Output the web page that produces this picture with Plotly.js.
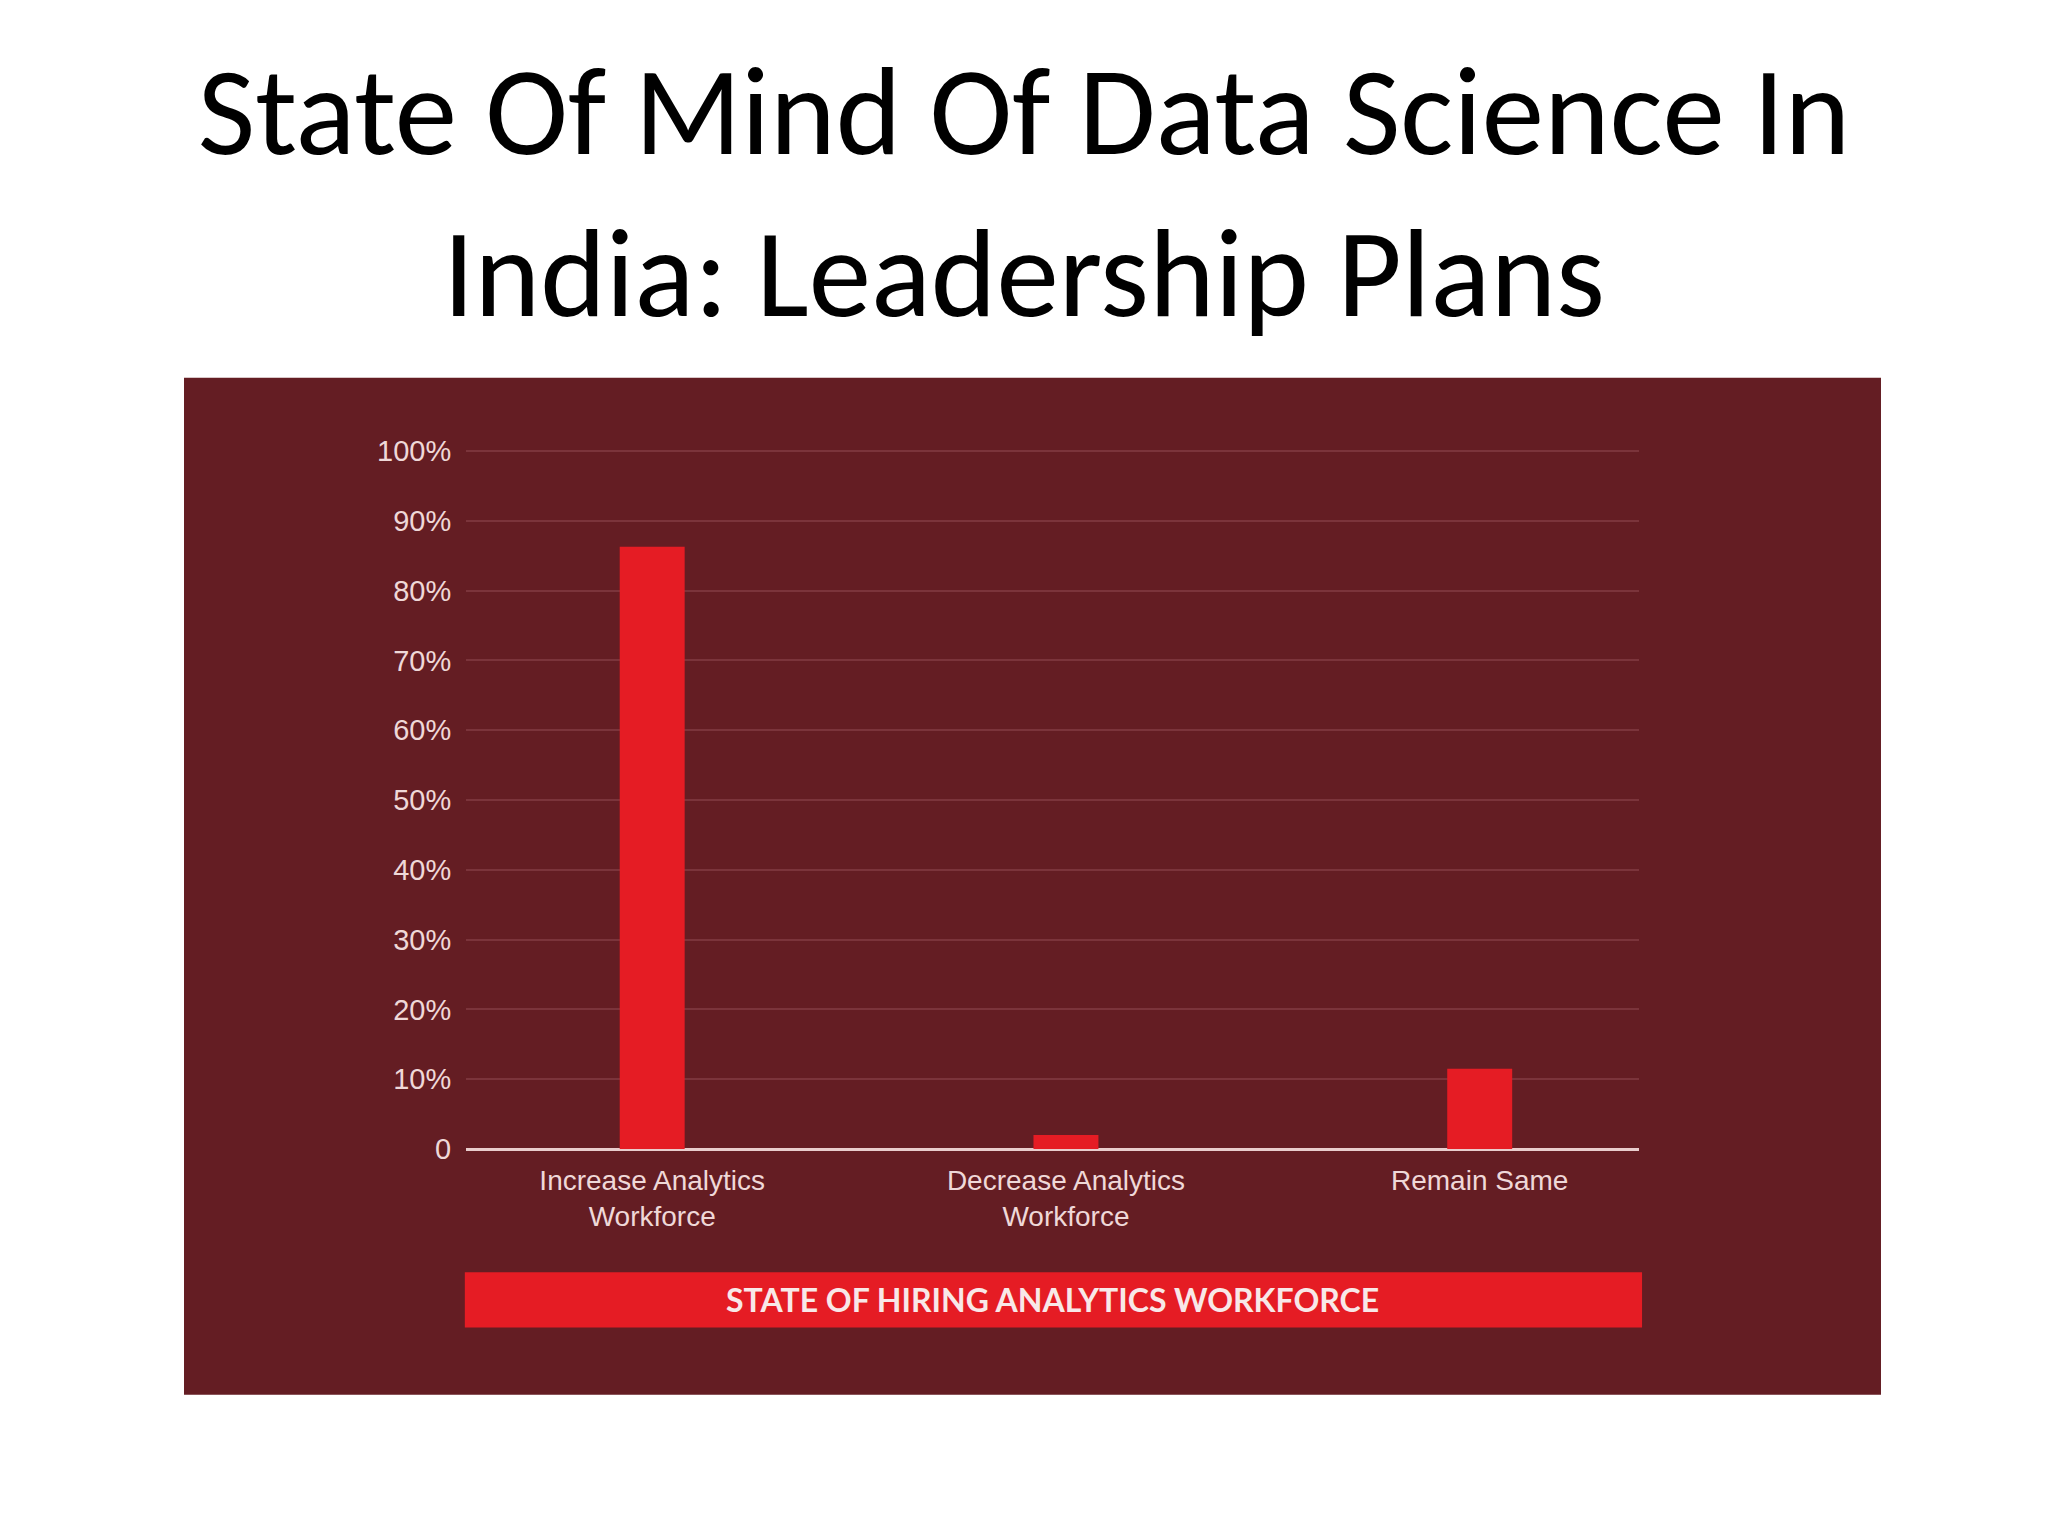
<!DOCTYPE html>
<html>
<head>
<meta charset="utf-8">
<script src="https://cdn.plot.ly/plotly-3.0.1.min.js"></script>
<style>html,body{margin:0;padding:0;background:#fff;}#chart{width:2048px;height:1536px;}</style>
</head>
<body>
<div id="chart"></div>
<script>
const categories = ["Increase Analytics<br>Workforce", "Decrease Analytics<br>Workforce", "Remain Same"];
const values = [86.3, 2, 11.5];
const tickVals = [0, 10, 20, 30, 40, 50, 60, 70, 80, 90, 100];
const tickText = ["0", "10%", "20%", "30%", "40%", "50%", "60%", "70%", "80%", "90%", "100%"];
const chartTitle = "State Of Mind Of Data Science In<br>India: Leadership Plans";
const bannerText = "STATE OF HIRING ANALYTICS WORKFORCE";

const panelColor = "#641d23";
const barColor = "#e51c24";
const labelColor = "#efd8d8";

const trace = {
  type: "bar",
  x: categories,
  y: values,
  width: 0.157,
  marker: {color: barColor, line: {width: 0}},
  hoverinfo: "skip"
};

const layout = {
  width: 2048,
  height: 1536,
  margin: {l: 466, r: 409, t: 449, b: 387, pad: 0},
  paper_bgcolor: "#ffffff",
  plot_bgcolor: "rgba(0,0,0,0)",
  showlegend: false,
  title: {
    text: chartTitle,
    font: {family: "Carlito, Calibri, Lato, sans-serif", size: 125, color: "#000000"},
    x: 0.5, xanchor: "center",
    y: 0.9, yanchor: "top", yref: "container"
  },
  xaxis: {
    type: "category",
    range: [-0.45, 2.385],
    showgrid: false, zeroline: false, showline: false,
    ticks: "outside", ticklen: 6, tickcolor: "rgba(0,0,0,0)",
    tickfont: {family: "Liberation Sans, Arial, sans-serif", size: 28, color: labelColor},
    fixedrange: true
  },
  yaxis: {
    range: [0, 100.3],
    tickvals: tickVals, ticktext: tickText,
    showgrid: true, gridcolor: "#7b343b", gridwidth: 2,
    zeroline: true, zerolinecolor: "#e9cdcd", zerolinewidth: 3,
    showline: false,
    ticks: "outside", ticklen: 8, tickcolor: "rgba(0,0,0,0)",
    tickfont: {family: "Liberation Sans, Arial, sans-serif", size: 29, color: labelColor},
    fixedrange: true
  },
  shapes: [
    {type: "rect", xref: "paper", yref: "paper", x0: -0.2404, x1: 1.2063, y0: -0.351, y1: 1.1017,
     fillcolor: panelColor, line: {width: 0}, layer: "below"},
    {type: "rect", xref: "paper", yref: "paper", x0: -0.001, x1: 1.0026, y0: -0.255, y1: -0.1762,
     fillcolor: barColor, line: {width: 0}, layer: "below"}
  ],
  annotations: [
    {text: bannerText, xref: "paper", yref: "paper", x: 0.5, y: -0.2156, xanchor: "center", yanchor: "middle",
     showarrow: false, font: {family: "Lato, Open Sans, sans-serif", size: 32, color: "#f8e8e8", weight: 700}}
  ]
};

Plotly.newPlot("chart", [trace], layout, {staticPlot: true, displayModeBar: false});
</script>
</body>
</html>
